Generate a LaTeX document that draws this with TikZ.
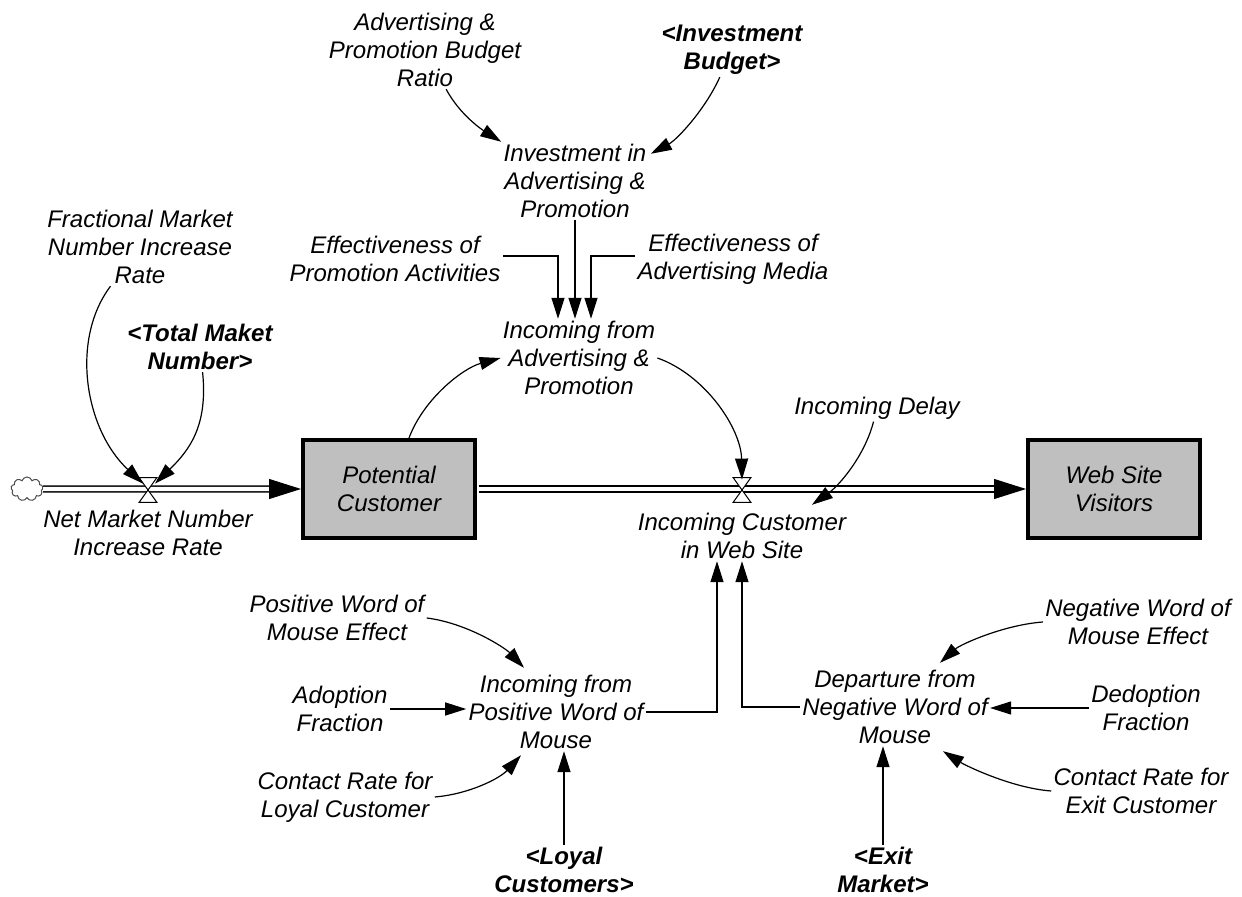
\documentclass[tikz,border=0pt]{standalone}
\usepackage{fontspec}
\setmainfont{Liberation Sans}
\usetikzlibrary{arrows.meta,shapes.symbols}

\begin{document}
\begin{tikzpicture}[x=0.5pt, y=-0.5pt,
  every node/.style={font=\itshape\fontsize{12}{14}\selectfont, align=center, inner sep=1pt},
  shadowvar/.style={font=\bfseries\itshape\fontsize{12}{14}\selectfont},
  stock/.style={draw, line width=2pt, fill=black!25, minimum width=86pt, minimum height=49pt},
  source/.style={cloud, cloud puffs=9, cloud ignores aspect, draw=black!70, line width=0.5pt,
    minimum width=16pt, minimum height=12pt, inner sep=0pt},
  valve/.style={minimum width=8.5pt, minimum height=12pt, inner sep=0pt},
  hourglass/.style={draw, fill=white, line width=0.5pt},
  pipe/.style={double=white, double distance=2.2pt, line width=0.75pt},
  pipehead/.style={line width=0.5pt, -{Triangle[length=16pt,width=10pt]}},
  link/.style={line width=0.6pt, -{Triangle[length=10.5pt,width=6.5pt]}}]

\useasboundingbox (0,0) rectangle (1242,897);

\node (fmnir) at (140,247) {Fractional Market\\Number Increase\\Rate};
\node[shadowvar] (tmn) at (200,347) {<Total Maket\\Number>};
\node (apbr) at (425,50) {Advertising \&\\Promotion Budget\\Ratio};
\node[shadowvar] (ib) at (732,50) {<Investment\\Budget>};
\node (iap) at (575,181) {Investment in\\Advertising \&\\Promotion};
\node (epa) at (395,259) {Effectiveness of\\Promotion Activities};
\node (eam) at (733,259) {Effectiveness of\\Advertising Media};
\node (ifap) at (579,358) {Incoming from\\Advertising \&\\Promotion};
\node (delay) at (877,408) {Incoming Delay};

\node[stock] (pc) at (389,489) {Potential\\Customer};
\node[stock] (wsv) at (1114,489) {Web Site\\Visitors};
\node[source] (src) at (27,489) {};
\node[valve] (v1) at (148,490) {};
\node[valve] (v2) at (742,490) {};
\node (nmnir) at (148,533) {Net Market Number\\Increase Rate};
\node (icws) at (742,536) {Incoming Customer\\in Web Site};

\node (pwme) at (337,618) {Positive Word of\\Mouse Effect};
\node (af) at (340,709) {Adoption\\Fraction};
\node (crlc) at (345,797) {Contact Rate for\\Loyal Customer};
\node (ipwm) at (556,712) {Incoming from\\Positive Word of\\Mouse};
\node[shadowvar] (lc) at (564,870) {<Loyal\\Customers>};
\node (nwme) at (1138,622) {Negative Word of\\Mouse Effect};
\node (dnwm) at (895,707) {Departure from\\Negative Word of\\Mouse};
\node (df) at (1146,708) {Dedoption\\Fraction};
\node (crec) at (1141,791) {Contact Rate for\\Exit Customer};
\node[shadowvar] (em) at (883,870) {<Exit\\Market>};

% flows
\draw[pipe] (src) -- ([xshift=-14pt]pc.west);
\draw[pipehead] ([xshift=-16pt]pc.west) -- (pc.west);
\draw[pipe] ([xshift=1pt]pc.east) -- ([xshift=-14pt]wsv.west);
\draw[pipehead] ([xshift=-16pt]wsv.west) -- (wsv.west);
\foreach \v in {v1,v2}
  \draw[hourglass] (\v.north west) -- (\v.north east) -- (\v.south west) -- (\v.south east) -- cycle;

% links
\draw[link] (fmnir) .. controls +(-70,93) and +(-58,-54) .. ([shift={(-5,6)}]v1.north);
\draw[link] (tmn) .. controls +(8,78) and +(35,-34) .. ([shift={(7,6)}]v1.north);
\draw[link] (apbr) .. controls +(35,65) and +(-19,-12) .. (iap.north west);
\draw[link] (ib) .. controls +(-27,60) and +(26,-14) .. ([shift={(2,12)}]iap.north east);
\coordinate (ifapin) at (iap.south |- ifap.north);
\draw[link] (iap.south) -- (ifapin);
\draw[link] ([yshift=1.5pt]epa.east) -| ([xshift=-8.5pt]ifapin);
\draw[link] ([yshift=1.5pt]eam.west) -| ([xshift=8pt]ifapin);
\draw[link] ([xshift=10pt]pc.north) .. controls +(15,-40) and +(-37,10) .. (ifap.west);
\draw[link] (ifap.east) .. controls +(48,17) and +(-1,-51) .. ([yshift=-1pt]v2.north);
\draw[link] (delay) .. controls +(-12,47) and +(28,-20) .. ([shift={(70,-6)}]icws.north);
\draw[link] (ipwm.east) -| ([xshift=-12.5pt]icws.south);
\draw[link] (dnwm.west) -| (icws.south);
\draw[link] (pwme.east) .. controls +(40,5) and +(-19,-20) .. ([shift={(-32,-5)}]ipwm.north);
\draw[link] (af.east) -- (af.east -| ipwm.west);
\draw[link] (crlc.east) .. controls +(35,-3) and +(-21,23) .. ([shift={(-35,4)}]ipwm.south);
\draw[link] (lc) -- (lc |- ipwm.south);
\draw[link] (nwme.west) .. controls +(-40,3) and +(20,-18) .. ([shift={(45,-5)}]dnwm.north);
\draw[link] (df.west) -- (df.west -| dnwm.east);
\draw[link] (crec.west) .. controls +(-40,-3) and +(22,14) .. ([shift={(48,5)}]dnwm.south);
\draw[link] (em) -- (em |- dnwm.south);
\end{tikzpicture}
\end{document}
